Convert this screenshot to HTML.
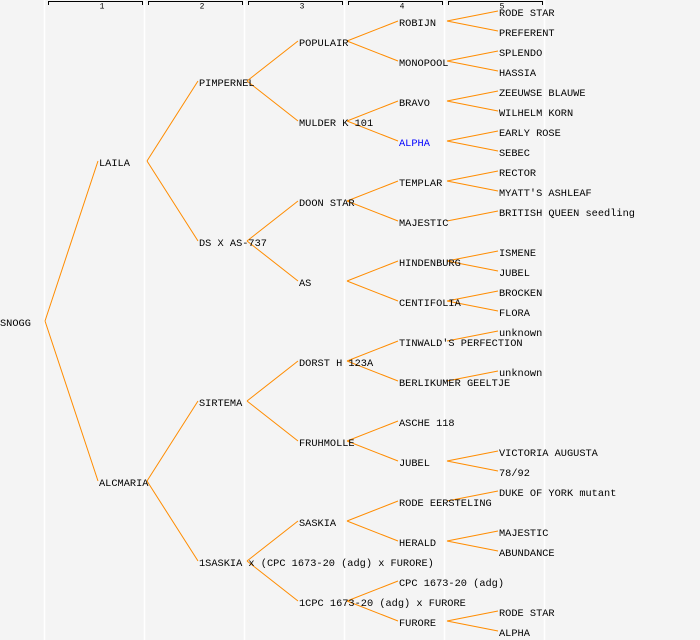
<!DOCTYPE html>
<html><head><style>
html,body{margin:0;padding:0;background:#f4f4f4;}
svg{display:block;}
text{font-family:"Liberation Mono","DejaVu Sans Mono",monospace;font-size:10.3px;fill:#000;dominant-baseline:central;}
.h{font-size:8px;text-anchor:middle;}
</style></head><body>
<svg width="700" height="640" xmlns="http://www.w3.org/2000/svg">
<rect width="700" height="640" fill="#f4f4f4"/>
<g stroke="#ffffff" stroke-width="1.5">
<line x1="44.5" y1="0" x2="44.5" y2="640"/><line x1="144.5" y1="0" x2="144.5" y2="640"/>
<line x1="244.5" y1="0" x2="244.5" y2="640"/><line x1="344.5" y1="0" x2="344.5" y2="640"/>
<line x1="444.5" y1="0" x2="444.5" y2="640"/><line x1="544.5" y1="0" x2="544.5" y2="640"/>
</g>
<g stroke="#000" stroke-width="1" fill="none">
<path d="M48.5,5V1.5H142.5V5"/><path d="M148.5,5V1.5H242.5V5"/><path d="M248.5,5V1.5H342.5V5"/>
<path d="M348.5,5V1.5H442.5V5"/><path d="M448.5,5V1.5H542.5V5"/>
</g>
<text class="h" x="102" y="7">1</text><text class="h" x="202" y="7">2</text><text class="h" x="302" y="7">3</text>
<text class="h" x="402" y="7">4</text><text class="h" x="502" y="7">5</text>
<g stroke="#ff8c00" stroke-width="1" fill="none">
<path d="M45,321L98,161M45,321L98,481"/>
<path d="M147,161L198,81M147,161L198,241M147,481L198,401M147,481L198,561"/>
<path d="M247,81L298,41M247,81L298,121M247,241L298,201M247,241L298,281M247,401L298,361M247,401L298,441M247,561L298,521M247,561L298,601"/>
<path d="M347,41L398,21M347,41L398,61M347,121L398,101M347,121L398,141M347,201L398,181M347,201L398,221M347,281L398,261M347,281L398,301M347,361L398,341M347,361L398,381M347,441L398,421M347,441L398,461M347,521L398,501M347,521L398,541M347,601L398,581M347,601L398,621"/>
<path d="M447,21L498,11M447,21L498,31M447,61L498,51M447,61L498,71M447,101L498,91M447,101L498,111M447,141L498,131M447,141L498,151M447,181L498,171M447,181L498,191M447,221L498,211M447,261L498,251M447,261L498,271M447,301L498,291M447,301L498,311M447,341L498,331M447,381L498,371M447,461L498,451M447,461L498,471M447,501L498,491M447,541L498,531M447,541L498,551M447,621L498,611M447,621L498,631"/>
</g>
<g transform="translate(0,2)">
<text x="0" y="322">SNOGG</text>
<text x="99" y="162">LAILA</text><text x="99" y="482">ALCMARIA</text>
<text x="199" y="82">PIMPERNEL</text><text x="199" y="242">DS X AS-737</text><text x="199" y="402">SIRTEMA</text><text x="199" y="562">1SASKIA x (CPC 1673-20 (adg) x FURORE)</text>
<text x="299" y="42">POPULAIR</text><text x="299" y="122">MULDER K 101</text><text x="299" y="202">DOON STAR</text><text x="299" y="282">AS</text>
<text x="299" y="362">DORST H 123A</text><text x="299" y="442">FRUHMOLLE</text><text x="299" y="522">SASKIA</text><text x="299" y="602">1CPC 1673-20 (adg) x FURORE</text>
<text x="399" y="22">ROBIJN</text><text x="399" y="62">MONOPOOL</text><text x="399" y="102">BRAVO</text><text x="399" y="142" style="fill:#0000ff">ALPHA</text>
<text x="399" y="182">TEMPLAR</text><text x="399" y="222">MAJESTIC</text><text x="399" y="262">HINDENBURG</text><text x="399" y="302">CENTIFOLIA</text>
<text x="399" y="342">TINWALD'S PERFECTION</text><text x="399" y="382">BERLIKUMER GEELTJE</text><text x="399" y="422">ASCHE 118</text><text x="399" y="462">JUBEL</text>
<text x="399" y="502">RODE EERSTELING</text><text x="399" y="542">HERALD</text><text x="399" y="582">CPC 1673-20 (adg)</text><text x="399" y="622">FURORE</text>
<text x="499" y="12">RODE STAR</text><text x="499" y="32">PREFERENT</text><text x="499" y="52">SPLENDO</text><text x="499" y="72">HASSIA</text>
<text x="499" y="92">ZEEUWSE BLAUWE</text><text x="499" y="112">WILHELM KORN</text><text x="499" y="132">EARLY ROSE</text><text x="499" y="152">SEBEC</text>
<text x="499" y="172">RECTOR</text><text x="499" y="192">MYATT'S ASHLEAF</text><text x="499" y="212">BRITISH QUEEN seedling</text>
<text x="499" y="252">ISMENE</text><text x="499" y="272">JUBEL</text><text x="499" y="292">BROCKEN</text><text x="499" y="312">FLORA</text>
<text x="499" y="332">unknown</text><text x="499" y="372">unknown</text><text x="499" y="452">VICTORIA AUGUSTA</text><text x="499" y="472">78/92</text>
<text x="499" y="492">DUKE OF YORK mutant</text><text x="499" y="532">MAJESTIC</text><text x="499" y="552">ABUNDANCE</text>
<text x="499" y="612">RODE STAR</text><text x="499" y="632">ALPHA</text>
</g>
</svg>
</body></html>
